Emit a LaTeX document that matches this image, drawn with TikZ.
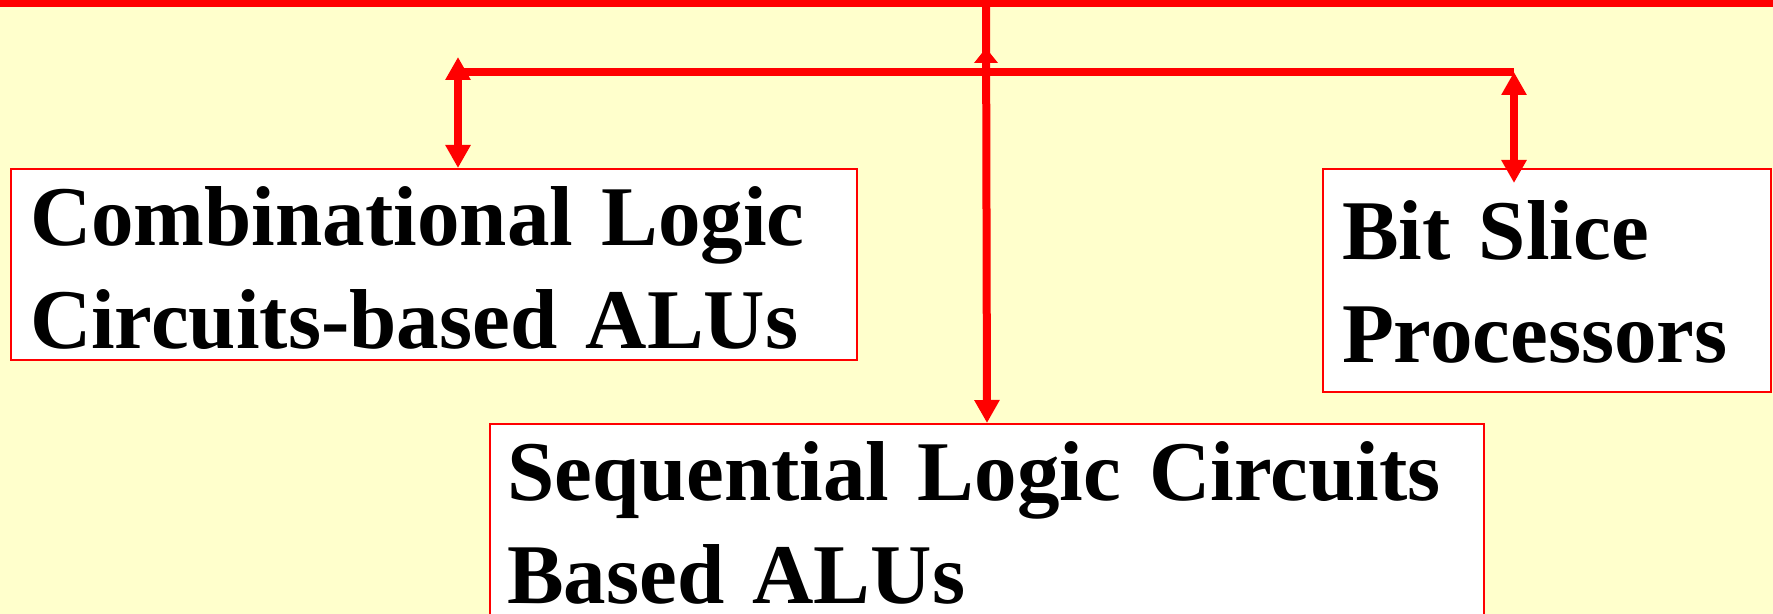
\documentclass[tikz,border=0pt]{standalone}
\usepackage{fontspec}
\setmainfont{Liberation Serif}
\usepackage{tikz}
\usetikzlibrary{arrows.meta,positioning,calc}
\definecolor{paper}{HTML}{FFFFCC}
\definecolor{wirered}{HTML}{FF0000}

\begin{document}
\begin{tikzpicture}[
  x=0.5pt, y=-0.5pt,
  catbox/.style={draw=wirered, line width=1pt, fill=white, anchor=north west,
    inner ysep=0pt, align=left,
    font=\fontsize{42.5pt}{51.5pt}\selectfont\bfseries},
  wire/.style={draw=wirered, line width=4pt},
  flow/.style={wire, -{Triangle[length=11.5pt,width=12pt]}},
  flowshort/.style={wire, -{Triangle[length=7.5pt,width=11.5pt]}},
  flowboth/.style={wire, {Triangle[length=11.5pt,width=12pt]}-{Triangle[length=11.5pt,width=12pt]}},
]
\useasboundingbox (0,0) rectangle (1773,614);
\clip (0,0) rectangle (1773,614);
\fill[paper] (0,0) rectangle (1773,614);

% Categories
\node[catbox, inner xsep=9.5pt, text width=404pt, text height=38.5pt, text depth=57pt]
  (comb) at (10,168) {Combinational Logic\\Circuits-based ALUs};
\node[catbox, inner xsep=9.5pt, text width=205pt, text height=45.5pt, text depth=66pt]
  (bit) at (1322,168) {Bit Slice\\Processors};
\node[catbox, inner xsep=8.5pt, text width=480pt, text height=38.5pt, text depth=70pt]
  (seq) at (489,423) {Sequential Logic Circuits\\Based ALUs};

% Bus points
\coordinate (topL) at (0,3.5);
\coordinate (topR) at (1773,3.5);
\coordinate (hub) at (986,3.5);
\coordinate (barL) at (458,72);
\coordinate (barR) at (1514,72);
\coordinate (barM) at (986,72);
\coordinate (hubTip) at (986,48);
\coordinate (combTip) at (458,57);
\coordinate (bitTip) at (1514,183);

% Top line and trunk
\draw[wire] (topL) -- (topR);
\draw[flow] (hub) -- (seq.north);
\draw[flowshort] (barM) -- (hubTip);

% Branches
\draw[wire] (barL) -- (barR);
\draw[flowboth] (combTip) -- (combTip |- comb.north);
\draw[flowboth] (barR) -- (bitTip);

\end{tikzpicture}
\end{document}
